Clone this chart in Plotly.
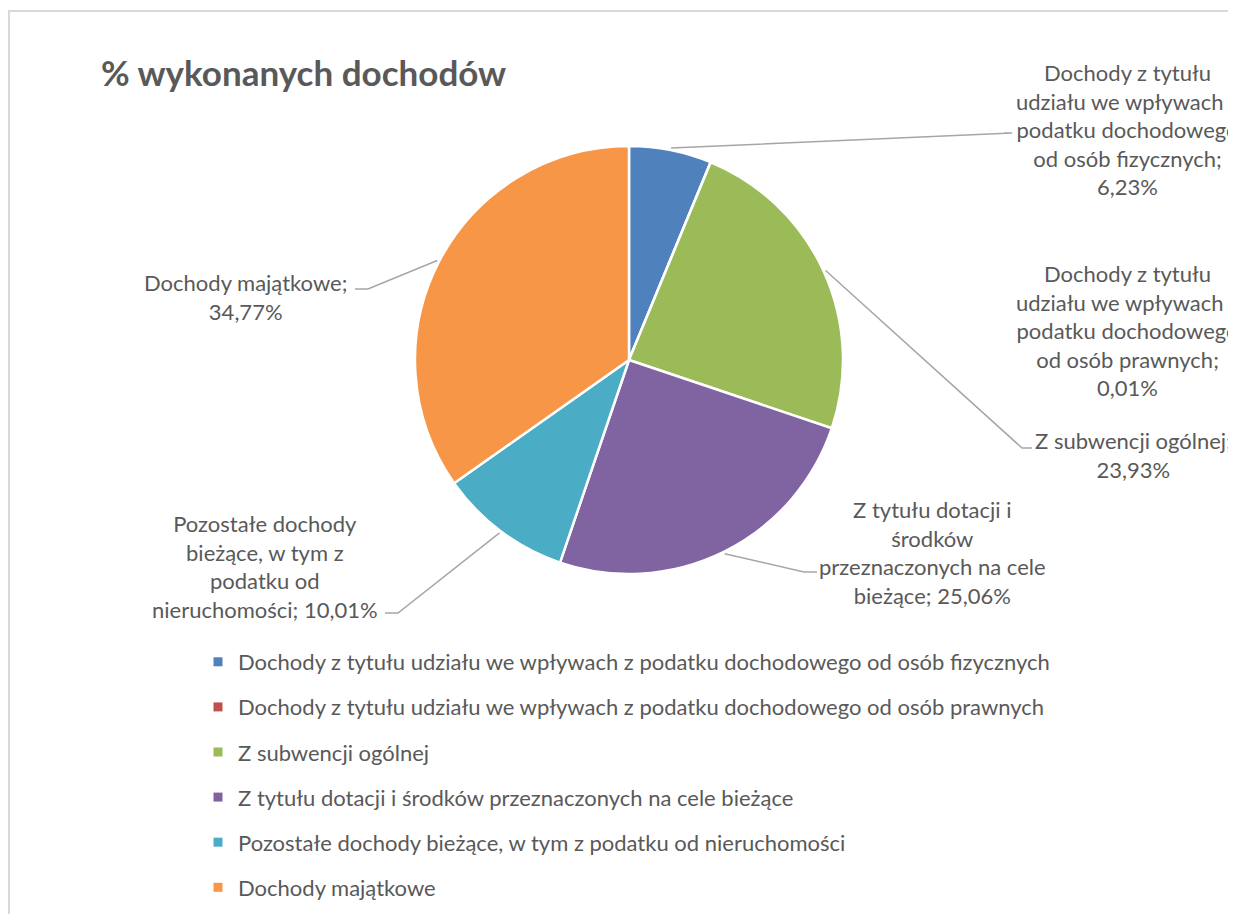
import math
import plotly.graph_objects as go

labels = [
    "Dochody z tytułu udziału we wpływach z podatku dochodowego od osób fizycznych",
    "Dochody z tytułu udziału we wpływach z podatku dochodowego od osób prawnych",
    "Z subwencji ogólnej",
    "Z tytułu dotacji i środków przeznaczonych na cele bieżące",
    "Pozostałe dochody bieżące, w tym z podatku od nieruchomości",
    "Dochody majątkowe",
]
values = [6.23, 0.01, 23.93, 25.06, 10.01, 34.77]
label_text = [
    "Dochody z tytułu<br>udziału we wpływach z<br>podatku dochodowego<br>od osób fizycznych;<br>6,23%",
    "Dochody z tytułu<br>udziału we wpływach z<br>podatku dochodowego<br>od osób prawnych;<br>0,01%",
    "Z subwencji ogólnej;<br>23,93%",
    "Z tytułu dotacji i<br>środków<br>przeznaczonych na cele<br>bieżące; 25,06%",
    "Pozostałe dochody<br>bieżące, w tym z<br>podatku od<br>nieruchomości; 10,01%",
    "Dochody majątkowe;<br>34,77%",
]
colors = ["#4F81BD", "#C0504D", "#9BBB59", "#8064A2", "#4BACC6", "#F79646"]

W, H = 1236, 914
OX, OY = 8, 8  # page body margin offset
FONT = "Lato"
TXT = "#595959"

# pie geometry (screen pixels)
cx, cy, r = 629, 360, 214

# label layout (screen px): text center x, center y, elbow x, elbow y, end x
label_pos = [
    (1127, 130, 1012, 133, 1004),
    (1127, 330, None, None, None),
    (1133, 455, 1022, 448, 1032),
    (932, 552, 804, 572, 817),
    (265, 566, 398, 613, 385),
    (245, 297, 368, 289, 355),
]

def px(x):
    return (x - OX) / W

def py(y):
    return 1 - (y - OY) / H

fig = go.Figure()
fig.add_trace(go.Pie(
    labels=labels,
    values=values,
    sort=False,
    direction="clockwise",
    rotation=0,
    marker=dict(colors=colors, line=dict(color="white", width=2.5)),
    textinfo="none",
    showlegend=False,
    domain=dict(x=[px(cx - r), px(cx + r)], y=[py(cy + r), py(cy - r)]),
))

# legend via dummy traces
for i, (lab, col) in enumerate(zip(labels, colors)):
    fig.add_trace(go.Scatter(
        x=[None], y=[None], mode="markers", name=lab,
        marker=dict(symbol="square", size=9, color=col),
        legendgroup=f"g{i}", showlegend=True,
    ))

shapes = []
annotations = []
total = sum(values)
cum = 0.0
for i, v in enumerate(values):
    mid = (cum + v / 2) / total
    cum += v
    theta = 2 * math.pi * mid
    ex = cx + (r + 2) * math.sin(theta)
    ey = cy - (r + 2) * math.cos(theta)
    tx, ty, bx, by, endx = label_pos[i]
    if bx is not None:
        shapes.append(dict(type="path", xref="paper", yref="paper",
                           path=f"M {px(ex)} {py(ey)} L {px(bx)} {py(by)} L {px(endx)} {py(by)}",
                           line=dict(color="#A6A6A6", width=1.5)))
    annotations.append(dict(
        x=px(tx), y=py(ty), xref="paper", yref="paper",
        text=label_text[i], showarrow=False, xanchor="center", yanchor="middle",
        align="center", font=dict(family=FONT, size=22, color=TXT),
    ))

# chart frame
shapes.append(dict(type="rect", xref="paper", yref="paper",
                   x0=px(9), x1=px(W + 40), y0=py(H + 40), y1=py(11),
                   line=dict(color="#D9D9D9", width=2), fillcolor="rgba(0,0,0,0)", layer="below"))

annotations.append(dict(
    x=px(99), y=py(72), xref="paper", yref="paper", xanchor="left", yanchor="middle",
    text="<b>% wykonanych dochodów</b>", showarrow=False,
    font=dict(family=FONT, size=35, color=TXT),
))

fig.update_layout(
    width=W, height=H,
    margin=dict(l=0, r=0, t=0, b=0),
    paper_bgcolor="white", plot_bgcolor="white",
    xaxis=dict(visible=False), yaxis=dict(visible=False),
    shapes=shapes, annotations=annotations,
    legend=dict(
        x=px(198), y=py(641), xanchor="left", yanchor="top",
        traceorder="grouped", tracegroupgap=13.5,
        font=dict(family=FONT, size=22, color=TXT),
        bgcolor="rgba(0,0,0,0)", itemwidth=30,
    ),
    hovermode=False,
)

fig.write_html("out.html")
